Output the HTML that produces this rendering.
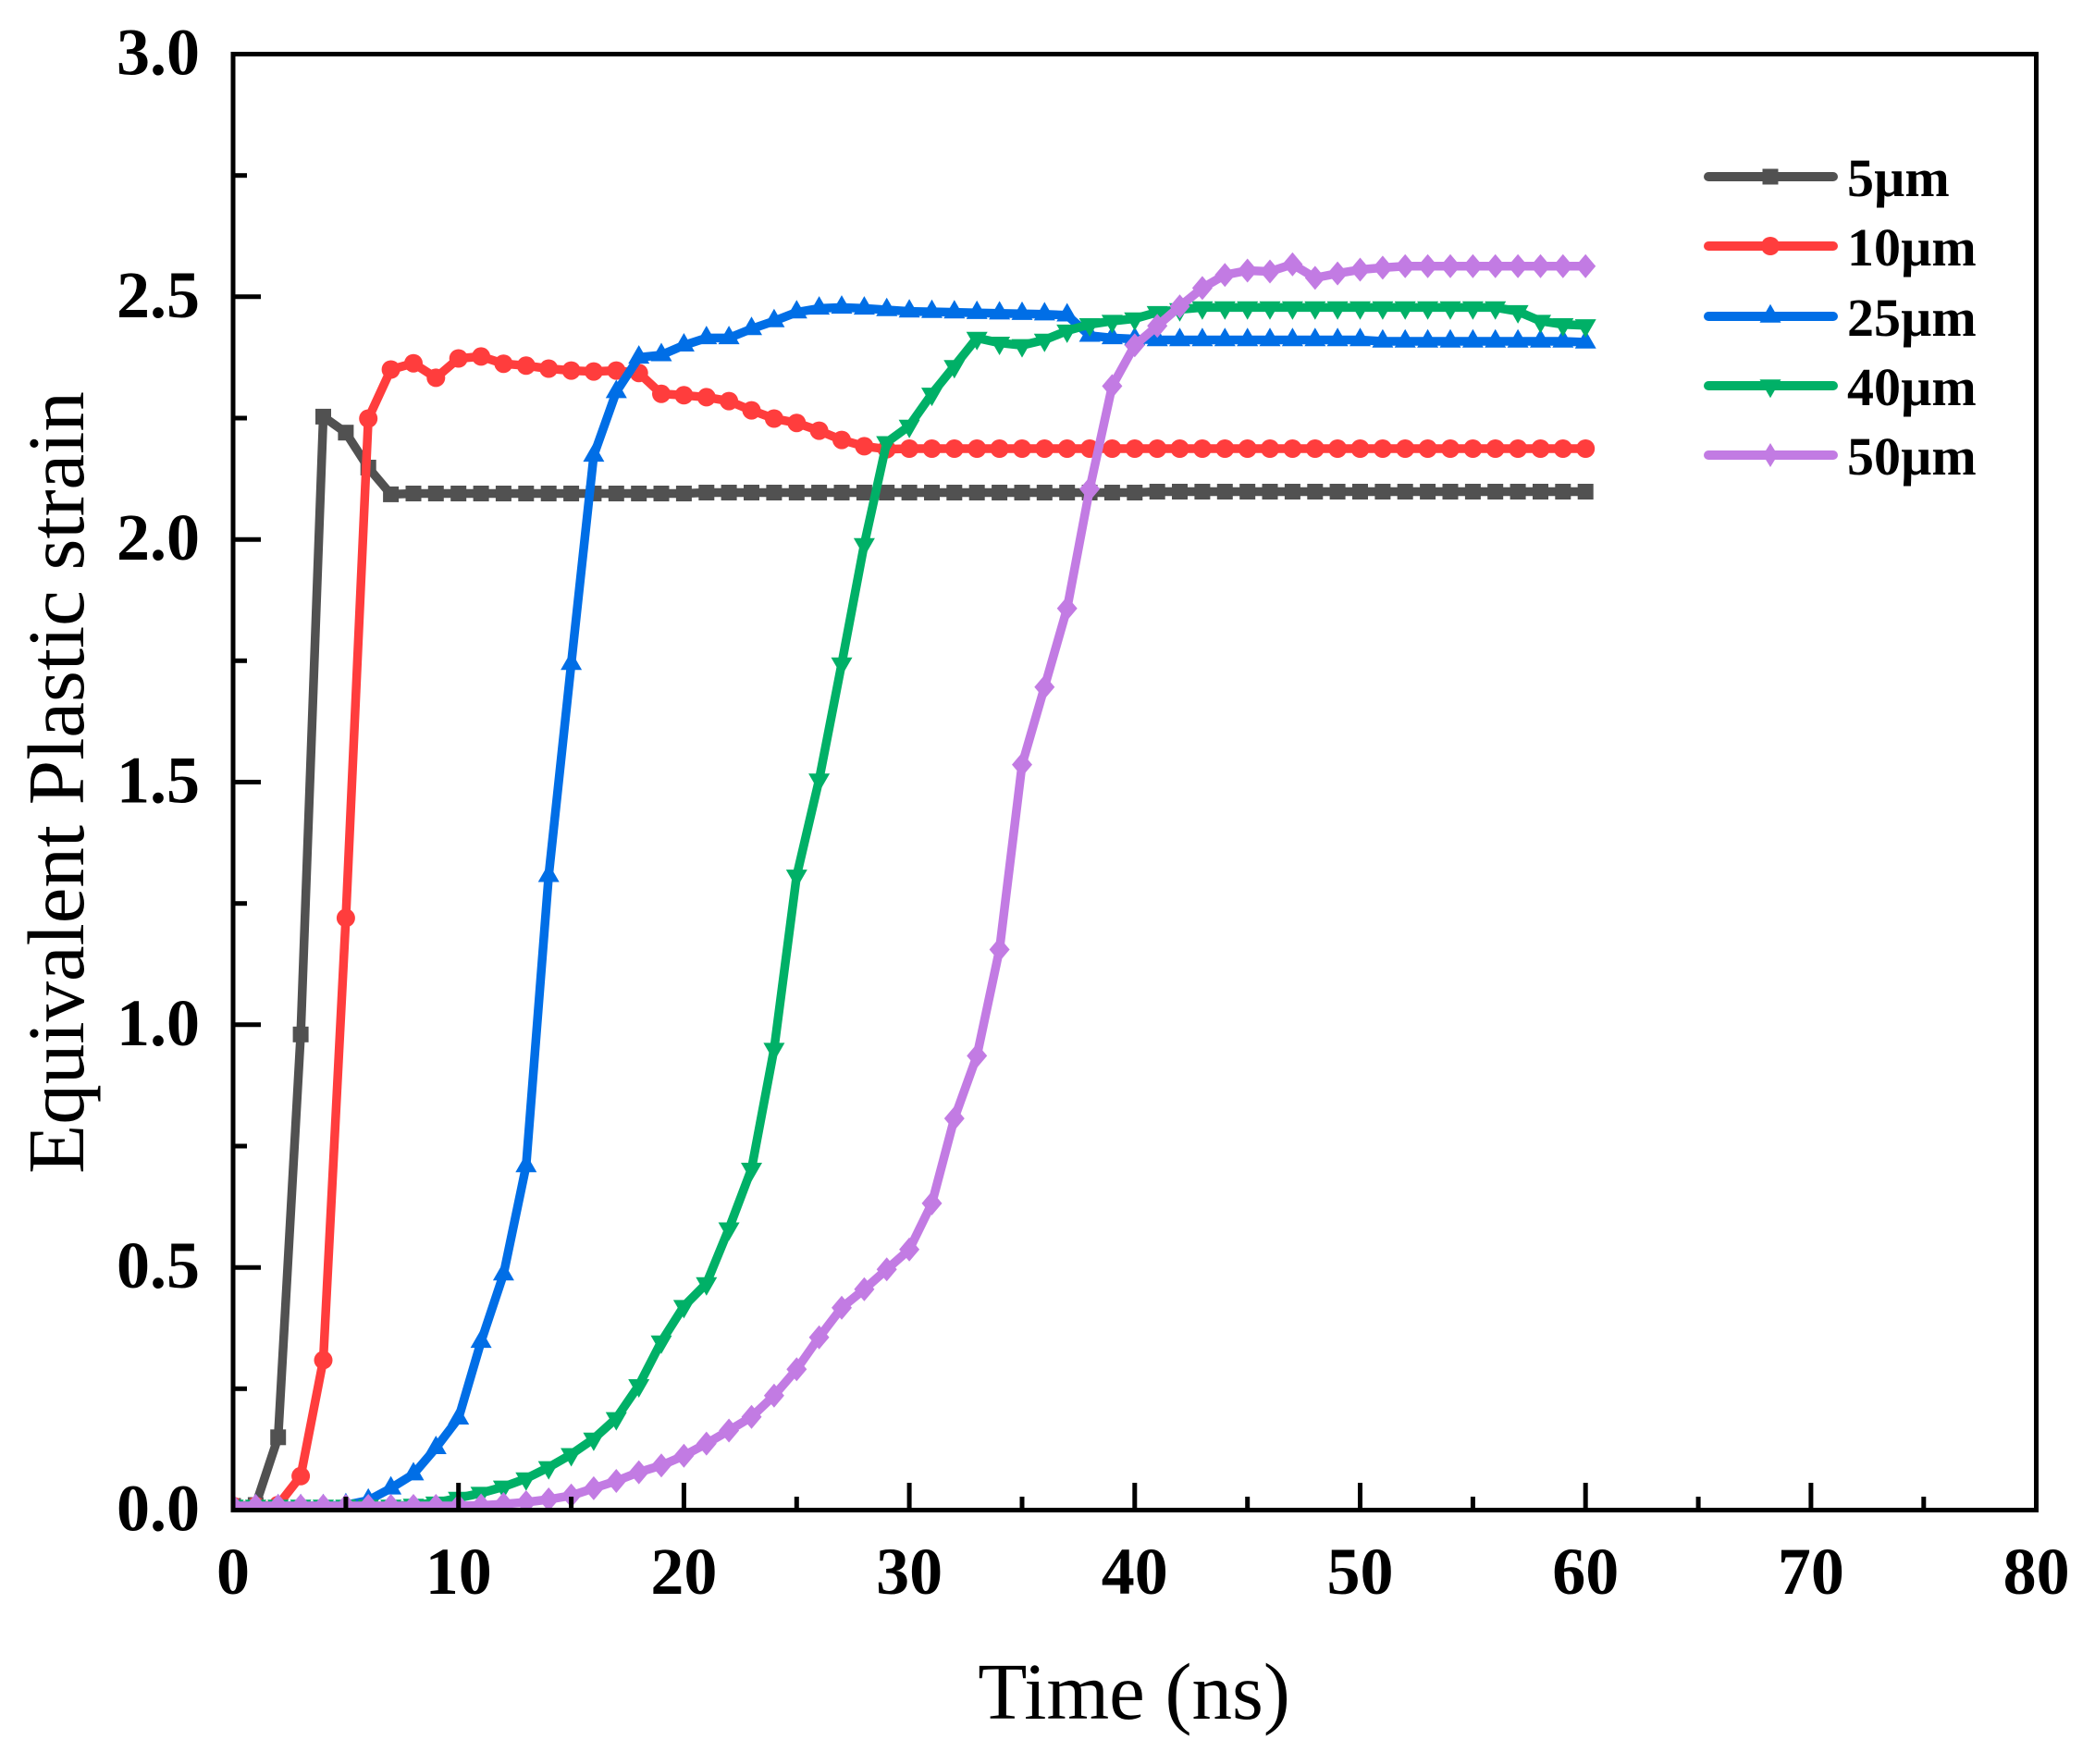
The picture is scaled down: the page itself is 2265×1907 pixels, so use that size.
<!DOCTYPE html>
<html>
<head>
<meta charset="utf-8">
<style>
  html, body { margin: 0; padding: 0; background: #ffffff; }
  svg { display: block; }
  .tick { font-family: "Liberation Serif", "Times New Roman", serif; font-weight: bold; font-size: 72px; fill: #000; }
  .leg { font-family: "Liberation Serif", "Times New Roman", serif; font-weight: bold; font-size: 58px; fill: #000; }
  .title { font-family: "Liberation Serif", "Times New Roman", serif; font-size: 87px; fill: #000; }
</style>
</head>
<body>
<svg xmlns="http://www.w3.org/2000/svg" width="2265" height="1907" viewBox="0 0 2265 1907">
  <rect x="0" y="0" width="2265" height="1907" fill="#ffffff"/>
  <defs>
    <clipPath id="plotclip">
      <rect x="254.5" y="61" width="1944.5" height="1569"/>
    </clipPath>
    <marker id="mSq" markerUnits="userSpaceOnUse" markerWidth="40" markerHeight="40" refX="20" refY="20" overflow="visible">
      <rect x="11.5" y="11.5" width="17" height="17" fill="#515151"/>
    </marker>
    <marker id="mCi" markerUnits="userSpaceOnUse" markerWidth="40" markerHeight="40" refX="20" refY="20" overflow="visible">
      <circle cx="20" cy="20" r="10" fill="#ff3d3d"/>
    </marker>
    <marker id="mUp" markerUnits="userSpaceOnUse" markerWidth="40" markerHeight="40" refX="20" refY="20" overflow="visible">
      <polygon points="20,6.7 31.5,26.7 8.5,26.7" fill="#006ee6"/>
    </marker>
    <marker id="mDn" markerUnits="userSpaceOnUse" markerWidth="40" markerHeight="40" refX="20" refY="20" overflow="visible">
      <polygon points="20,33.3 31.5,13.3 8.5,13.3" fill="#00b067"/>
    </marker>
    <marker id="mDi" markerUnits="userSpaceOnUse" markerWidth="40" markerHeight="40" refX="20" refY="20" overflow="visible">
      <polygon points="20,7 31,20 20,33 9,20" fill="#c27be3"/>
    </marker>
  </defs>

  <!-- data series -->
  <g clip-path="url(#plotclip)" fill="none" stroke-width="9.5" stroke-linejoin="round" stroke-linecap="round">
    <polyline stroke="#515151" marker-start="url(#mSq)" marker-mid="url(#mSq)" marker-end="url(#mSq)"
      points="252,1628 276.4,1627 300.7,1553.8 325.1,1118.3 349.5,450.4 373.9,467.7 398.2,505.5 422.6,534.4 447,533.5 471.3,533.5 495.7,533.5 520.1,533.5 544.4,533.5 568.8,533.5 593.2,533.5 617.6,533.5 641.9,533.5 666.3,533.5 690.7,533.5 715,533.5 739.4,533.5 763.8,532.5 788.1,532.5 812.5,532.5 836.9,532.5 861.3,532.5 885.6,532.5 910,532.5 934.4,532.5 958.7,532.5 983.1,532.5 1007.5,532.5 1031.8,532.5 1056.2,532.5 1080.6,532.5 1105,532.5 1129.3,532.5 1153.7,532.5 1178.1,532.5 1202.4,532.5 1226.8,532.5 1251.2,531.5 1275.5,531.5 1299.9,531.5 1324.3,531.5 1348.7,531.5 1373,531.5 1397.4,531.5 1421.8,531.5 1446.1,531.5 1470.5,531.5 1494.9,531.5 1519.2,531.5 1543.6,531.5 1568,531.5 1592.4,531.5 1616.7,531.5 1641.1,531.5 1665.5,531.5 1689.8,531.5 1714.2,531.5"/>

    <polyline stroke="#ff3d3d" marker-start="url(#mCi)" marker-mid="url(#mCi)" marker-end="url(#mCi)"
      points="252,1628 276.4,1628 300.7,1627 325.1,1595.8 349.5,1470.4 373.9,992.4 398.2,452.5 422.6,399.5 447,392.7 471.3,408.4 495.7,387.5 520.1,385.4 544.4,393.2 568.8,395.3 593.2,398.5 617.6,400.6 641.9,401.6 666.3,400.6 690.7,403.2 715,425.8 739.4,427.3 763.8,429.4 788.1,433.6 812.5,443.6 836.9,452.5 861.3,457.2 885.6,465.6 910,475.6 934.4,482.4 958.7,485.6 983.1,485 1007.5,485 1031.8,485 1056.2,485 1080.6,485 1105,485 1129.3,485 1153.7,485 1178.1,485 1202.4,485 1226.8,485 1251.2,485 1275.5,485 1299.9,485 1324.3,485 1348.7,485 1373,485 1397.4,485 1421.8,485 1446.1,485 1470.5,485 1494.9,485 1519.2,485 1543.6,485 1568,485 1592.4,485 1616.7,485 1641.1,485 1665.5,485 1689.8,485 1714.2,485"/>

    <polyline stroke="#006ee6" marker-start="url(#mUp)" marker-mid="url(#mUp)" marker-end="url(#mUp)"
      points="252,1628 276.4,1628 300.7,1628 325.1,1628 349.5,1628 373.9,1627 398.2,1622 422.6,1608.9 447,1593.7 471.3,1565.3 495.7,1533.3 520.1,1450.4 544.4,1377.5 568.8,1260.5 593.2,946.8 617.6,717.5 641.9,492.4 666.3,423.7 690.7,386.4 715,383.8 739.4,373.3 763.8,365.4 788.1,365.4 812.5,355.5 836.9,347.1 861.3,337.6 885.6,333.4 910,332.4 934.4,333.4 958.7,335 983.1,336.6 1007.5,337.1 1031.8,337.6 1056.2,338.2 1080.6,338.7 1105,339.2 1129.3,339.7 1153.7,340.8 1178.1,362.8 1202.4,365.4 1226.8,366.5 1251.2,367.5 1275.5,367.5 1299.9,367.5 1324.3,367.5 1348.7,367.5 1373,367.5 1397.4,367.5 1421.8,367.5 1446.1,367.5 1470.5,367.5 1494.9,369 1519.2,369 1543.6,369 1568,369 1592.4,369 1616.7,369 1641.1,369 1665.5,369 1689.8,369 1714.2,370"/>

    <polyline stroke="#00b067" marker-start="url(#mDn)" marker-mid="url(#mDn)" marker-end="url(#mDn)"
      points="252,1628 276.4,1628 300.7,1628 325.1,1628 349.5,1628 373.9,1628 398.2,1628 422.6,1628 447,1627 471.3,1624.6 495.7,1619.4 520.1,1614.1 544.4,1607.3 568.8,1598.4 593.2,1586.3 617.6,1572.2 641.9,1555.4 666.3,1533.3 690.7,1497.7 715,1450.4 739.4,1412.1 763.8,1387.5 788.1,1328.2 812.5,1263.7 836.9,1134.1 861.3,946.8 885.6,842.9 910,717.5 934.4,588.4 958.7,478.2 983.1,460.4 1007.5,425.8 1031.8,395.9 1056.2,365.4 1080.6,370.7 1105,373.3 1129.3,367.5 1153.7,357.6 1178.1,350.7 1202.4,347.1 1226.8,344.5 1251.2,337.6 1275.5,334.5 1299.9,332.4 1324.3,332.4 1348.7,332.4 1373,332.4 1397.4,332.4 1421.8,332.4 1446.1,332.4 1470.5,332.4 1494.9,332.4 1519.2,332.4 1543.6,332.4 1568,332.4 1592.4,332.4 1616.7,332.4 1641.1,336.6 1665.5,347.1 1689.8,350.7 1714.2,351.8"/>

    <polyline stroke="#c27be3" marker-start="url(#mDi)" marker-mid="url(#mDi)" marker-end="url(#mDi)"
      points="252,1628 276.4,1628 300.7,1628 325.1,1628 349.5,1628 373.9,1628 398.2,1628 422.6,1628 447,1628 471.3,1628 495.7,1628 520.1,1627.5 544.4,1626 568.8,1624 593.2,1621 617.6,1616.8 641.9,1608.9 666.3,1601 690.7,1591.6 715,1584.2 739.4,1573.7 763.8,1560.6 788.1,1546.5 812.5,1531.8 836.9,1508.7 861.3,1480.3 885.6,1445.7 910,1413.7 934.4,1393.8 958.7,1372.3 983.1,1350.8 1007.5,1300.9 1031.8,1209.1 1056.2,1141.4 1080.6,1026.5 1105,826.6 1129.3,742.7 1153.7,657.7 1178.1,528.6 1202.4,417.4 1226.8,373.3 1251.2,352.3 1275.5,331.3 1299.9,311.4 1324.3,297.2 1348.7,292.5 1373,293.5 1397.4,285.7 1421.8,300.4 1446.1,295.6 1470.5,291.5 1494.9,289.4 1519.2,287.8 1543.6,287.8 1568,287.8 1592.4,287.8 1616.7,287.8 1641.1,287.8 1665.5,287.8 1689.8,287.8 1714.2,287.8"/>
  </g>

  <!-- axes frame -->
  <rect x="252" y="58.5" width="1949.5" height="1574" fill="none" stroke="#000" stroke-width="5"/>

  <!-- y ticks (left, inward) -->
  <g stroke="#000" stroke-width="5">
    <line x1="252" y1="58.5" x2="282" y2="58.5"/>
    <line x1="252" y1="320.8" x2="282" y2="320.8"/>
    <line x1="252" y1="583.2" x2="282" y2="583.2"/>
    <line x1="252" y1="845.5" x2="282" y2="845.5"/>
    <line x1="252" y1="1107.8" x2="282" y2="1107.8"/>
    <line x1="252" y1="1370.2" x2="282" y2="1370.2"/>
    <line x1="252" y1="189.7" x2="267" y2="189.7"/>
    <line x1="252" y1="452" x2="267" y2="452"/>
    <line x1="252" y1="714.3" x2="267" y2="714.3"/>
    <line x1="252" y1="976.7" x2="267" y2="976.7"/>
    <line x1="252" y1="1239" x2="267" y2="1239"/>
    <line x1="252" y1="1501.3" x2="267" y2="1501.3"/>
  </g>

  <!-- x ticks (bottom, inward) -->
  <g stroke="#000" stroke-width="5">
    <line x1="495.7" y1="1632.5" x2="495.7" y2="1603"/>
    <line x1="739.4" y1="1632.5" x2="739.4" y2="1603"/>
    <line x1="983.1" y1="1632.5" x2="983.1" y2="1603"/>
    <line x1="1226.8" y1="1632.5" x2="1226.8" y2="1603"/>
    <line x1="1470.5" y1="1632.5" x2="1470.5" y2="1603"/>
    <line x1="1714.2" y1="1632.5" x2="1714.2" y2="1603"/>
    <line x1="1957.9" y1="1632.5" x2="1957.9" y2="1603"/>
    <line x1="373.9" y1="1632.5" x2="373.9" y2="1618"/>
    <line x1="617.6" y1="1632.5" x2="617.6" y2="1618"/>
    <line x1="861.3" y1="1632.5" x2="861.3" y2="1618"/>
    <line x1="1105" y1="1632.5" x2="1105" y2="1618"/>
    <line x1="1348.7" y1="1632.5" x2="1348.7" y2="1618"/>
    <line x1="1592.4" y1="1632.5" x2="1592.4" y2="1618"/>
    <line x1="1836.1" y1="1632.5" x2="1836.1" y2="1618"/>
    <line x1="2079.8" y1="1632.5" x2="2079.8" y2="1618"/>
  </g>

  <!-- y tick labels -->
  <g class="tick" text-anchor="end">
    <text x="216" y="80.5">3.0</text>
    <text x="216" y="342.8">2.5</text>
    <text x="216" y="605.2">2.0</text>
    <text x="216" y="867.5">1.5</text>
    <text x="216" y="1129.8">1.0</text>
    <text x="216" y="1392.2">0.5</text>
    <text x="216" y="1654.5">0.0</text>
  </g>

  <!-- x tick labels -->
  <g class="tick" text-anchor="middle">
    <text x="252" y="1723">0</text>
    <text x="495.7" y="1723">10</text>
    <text x="739.4" y="1723">20</text>
    <text x="983.1" y="1723">30</text>
    <text x="1226.8" y="1723">40</text>
    <text x="1470.5" y="1723">50</text>
    <text x="1714.2" y="1723">60</text>
    <text x="1957.9" y="1723">70</text>
    <text x="2201.6" y="1723">80</text>
  </g>

  <!-- axis titles -->
  <text class="title" x="1226" y="1858" text-anchor="middle">Time (ns)</text>
  <text class="title" font-size="88" text-anchor="middle" transform="translate(90,846) rotate(-90)">Equivalent Plastic strain</text>

  <!-- legend -->
  <g stroke-width="10" stroke-linecap="round">
    <line x1="1847" y1="191" x2="1982" y2="191" stroke="#515151"/>
    <line x1="1847" y1="266" x2="1982" y2="266" stroke="#ff3d3d"/>
    <line x1="1847" y1="342" x2="1982" y2="342" stroke="#006ee6"/>
    <line x1="1847" y1="417" x2="1982" y2="417" stroke="#00b067"/>
    <line x1="1847" y1="492" x2="1982" y2="492" stroke="#c27be3"/>
  </g>
  <rect x="1905.5" y="182.5" width="17" height="17" fill="#515151"/>
  <circle cx="1914" cy="266" r="10" fill="#ff3d3d"/>
  <polygon points="1914,328.7 1925.5,348.7 1902.5,348.7" fill="#006ee6"/>
  <polygon points="1914,430.3 1925.5,410.3 1902.5,410.3" fill="#00b067"/>
  <polygon points="1914,479 1922,492 1914,505 1906,492" fill="#c27be3"/>

  <g class="leg">
    <text x="1997" y="212">5µm</text>
    <text x="1997" y="287">10µm</text>
    <text x="1997" y="363">25µm</text>
    <text x="1997" y="438">40µm</text>
    <text x="1997" y="513">50µm</text>
  </g>
</svg>
</body>
</html>
